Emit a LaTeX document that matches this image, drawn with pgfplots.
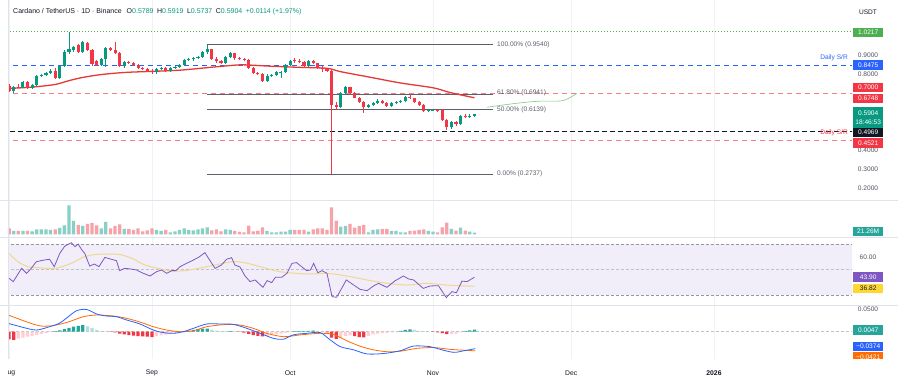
\documentclass[border=0pt]{standalone}
\usepackage{pgfplots}
\pgfplotsset{compat=1.18}
\usepackage{pgfplotstable}
\usepackage{fontspec}
\setmainfont{Liberation Sans}
\definecolor{tvgreen}{HTML}{089981}
\definecolor{tvred}{HTML}{F23645}
\definecolor{tvblue}{HTML}{2962FF}
\definecolor{tvtext}{HTML}{131722}
\definecolor{tvgray}{HTML}{50535E}
\definecolor{fibgray}{HTML}{5D606B}
\definecolor{emared}{HTML}{E53935}
\definecolor{volgreen}{HTML}{88CFC5}
\definecolor{volred}{HTML}{F5A3A8}
\definecolor{rsipurple}{HTML}{7E57C2}
\definecolor{rsima}{HTML}{EED98E}
\definecolor{rsiyellow}{HTML}{FDD835}
\definecolor{rsiband}{HTML}{F1EDF9}
\definecolor{rsidash}{HTML}{9598A1}
\definecolor{macdorange}{HTML}{FF6D00}
\definecolor{histdg}{HTML}{26A69A}
\definecolor{histlg}{HTML}{B2DFDB}
\definecolor{histdr}{HTML}{F23645}
\definecolor{histlr}{HTML}{FFCDD2}
\definecolor{sepc}{HTML}{E0E3EB}
\definecolor{gridc}{HTML}{F0F2F6}
\definecolor{lvgreen}{HTML}{4CAF50}
\definecolor{drawgreen}{HTML}{81C784}

\pgfplotstableread{
d o h l c
1 0.712 0.738 0.700 0.733
3 0.728 0.765 0.724 0.758
5 0.728 0.745 0.722 0.740
6 0.740 0.795 0.736 0.790
7 0.790 0.802 0.784 0.796
8 0.796 0.812 0.790 0.806
9 0.806 0.825 0.800 0.818
11 0.778 0.845 0.772 0.840
12 0.840 0.925 0.835 0.918
13 0.918 1.0217 0.905 0.930
14 0.926 0.948 0.915 0.944
16 0.918 0.975 0.912 0.970
20 0.848 0.884 0.842 0.878
21 0.878 0.940 0.835 0.935
25 0.840 0.870 0.832 0.864
32 0.808 0.834 0.802 0.828
33 0.828 0.836 0.820 0.832
35 0.815 0.838 0.810 0.834
36 0.834 0.840 0.826 0.836
37 0.836 0.852 0.830 0.848
38 0.848 0.880 0.844 0.874
39 0.874 0.886 0.866 0.878
40 0.878 0.892 0.870 0.886
41 0.886 0.896 0.878 0.890
42 0.890 0.920 0.884 0.914
43 0.914 0.954 0.906 0.930
47 0.860 0.896 0.854 0.890
48 0.890 0.916 0.884 0.908
56 0.764 0.798 0.760 0.792
57 0.792 0.800 0.782 0.796
58 0.796 0.814 0.788 0.808
59 0.808 0.816 0.780 0.812
60 0.812 0.852 0.806 0.846
61 0.846 0.874 0.840 0.868
65 0.842 0.872 0.838 0.866
72 0.628 0.706 0.622 0.698
73 0.698 0.736 0.692 0.730
78 0.628 0.640 0.622 0.636
79 0.636 0.654 0.630 0.648
80 0.648 0.668 0.642 0.660
83 0.632 0.650 0.628 0.645
84 0.645 0.656 0.640 0.652
85 0.652 0.664 0.646 0.658
86 0.658 0.686 0.652 0.680
91 0.605 0.615 0.598 0.611
92 0.611 0.617 0.604 0.613
96 0.520 0.550 0.512 0.546
98 0.535 0.585 0.530 0.578
100 0.574 0.592 0.566 0.579
101 0.5789 0.5919 0.5737 0.5904
}\greencandles

\pgfplotstableread{
d o h l c
0 0.738 0.745 0.705 0.712
2 0.733 0.745 0.725 0.728
4 0.758 0.762 0.722 0.728
10 0.818 0.830 0.772 0.778
15 0.950 0.958 0.912 0.918
17 0.961 0.968 0.920 0.926
18 0.926 0.930 0.842 0.850
19 0.868 0.876 0.840 0.848
22 0.935 0.942 0.920 0.926
23 0.926 0.970 0.905 0.910
24 0.910 0.914 0.836 0.840
26 0.864 0.870 0.850 0.856
27 0.856 0.862 0.842 0.848
28 0.848 0.852 0.828 0.832
29 0.832 0.838 0.820 0.826
30 0.826 0.832 0.812 0.818
31 0.818 0.825 0.800 0.808
34 0.832 0.836 0.810 0.815
44 0.930 0.934 0.874 0.880
45 0.880 0.888 0.860 0.866
46 0.866 0.874 0.852 0.860
49 0.908 0.912 0.876 0.882
50 0.882 0.890 0.872 0.878
51 0.878 0.884 0.868 0.874
52 0.874 0.878 0.824 0.830
53 0.830 0.836 0.802 0.806
54 0.806 0.812 0.794 0.800
55 0.800 0.806 0.758 0.764
62 0.874 0.884 0.860 0.868
63 0.868 0.878 0.856 0.862
64 0.862 0.866 0.836 0.842
66 0.866 0.872 0.850 0.856
67 0.856 0.860 0.826 0.832
68 0.832 0.840 0.812 0.826
69 0.826 0.832 0.812 0.818
70 0.818 0.824 0.2737 0.637
71 0.637 0.652 0.612 0.628
74 0.730 0.734 0.694 0.700
75 0.700 0.706 0.672 0.676
76 0.676 0.680 0.645 0.650
77 0.650 0.656 0.595 0.628
81 0.660 0.664 0.640 0.646
82 0.646 0.650 0.626 0.632
87 0.680 0.694 0.666 0.672
88 0.672 0.676 0.646 0.652
89 0.652 0.656 0.632 0.638
90 0.638 0.642 0.598 0.605
93 0.613 0.618 0.600 0.610
94 0.610 0.614 0.552 0.558
95 0.558 0.564 0.505 0.520
97 0.546 0.552 0.528 0.535
99 0.578 0.590 0.568 0.574
}\redcandles

\newcommand{\sm}{\fontsize{6.6}{7.5}\selectfont}

\pgfplotsset{
  tvpane/.style={
    scale only axis, width=844pt, xmin=-0.2388, xmax=182.96,
    anchor=south west, axis line style={draw=none}, major tick length=0pt,
    xtick={0,31,61,92,122,153}, xticklabels={,,,,,}, xmajorgrids,
    grid style={draw=gridc, line width=0.6pt},
    scaled y ticks=false, scaled x ticks=false,
    yticklabel pos=right,
    yticklabel style={anchor=center, xshift=16pt, font=\sm, text=tvgray},
  },
  lvl/.style={forget plot, line width=0.9pt, dash pattern=on 5pt off 4pt},
}
\tikzset{
  lab/.style={anchor=west, inner sep=0pt, minimum width=30pt, minimum height=9.6pt, font=\sm, text=white},
}

\begin{document}
\begin{tikzpicture}
\useasboundingbox (0,0) rectangle (898pt,380pt);
\fill[white] (0,0) rectangle (898pt,380pt);

% ---------------- price pane ----------------
\begin{axis}[tvpane, at={(8pt,180pt)}, height=200pt,
  ymin=0.13684, ymax=1.18947,
  ytick={0.2,0.3,0.4,0.8,0.9},
  yticklabel={\pgfmathprintnumber[fixed,fixed zerofill,precision=4,assume math mode=true]{\tick}}]
% horizontal levels
\addplot[forget plot, lvgreen, line width=0.9pt, dash pattern=on 1pt off 2pt] coordinates {(-5,1.0217)(200,1.0217)};
\addplot[lvl, tvblue] coordinates {(-5,0.8475)(200,0.8475)};
\addplot[lvl, tvred!65] coordinates {(-5,0.7000)(200,0.7000)};
\addplot[lvl, tvred!65] coordinates {(-5,0.4521)(200,0.4521)};
\addplot[forget plot, tvtext, line width=1.5pt, dash pattern=on 5pt off 3pt] coordinates {(-5,0.4969)(200,0.4969)};
% fibonacci
\addplot[forget plot, fibgray, line width=0.8pt] coordinates {(42.96,0.9540)(105.0,0.9540)};
\addplot[forget plot, fibgray, line width=0.8pt] coordinates {(42.96,0.6941)(105.0,0.6941)};
\addplot[forget plot, fibgray, line width=0.8pt] coordinates {(42.96,0.6139)(105.0,0.6139)};
\addplot[forget plot, fibgray, line width=0.8pt] coordinates {(42.96,0.2737)(105.0,0.2737)};
% drawing curve
\addplot[forget plot, drawgreen, line width=0.6pt, smooth] coordinates {(103.7,0.625)(110.2,0.646)(115.2,0.657)(120.2,0.660)(123.2,0.698)};
% EMA
\addplot[forget plot, emared, line width=1.3pt, smooth] coordinates {
(0,0.724)(5,0.731)(10,0.745)(13,0.765)(16,0.782)(20,0.797)(25,0.808)(30,0.813)(37,0.820)(45,0.838)(50,0.848)(53,0.846)(56,0.842)(63,0.835)(69,0.830)(72,0.812)(77.7,0.786)(84.9,0.753)(92.1,0.727)(95.8,0.702)(101,0.6748)};
% wicks
\addplot[forget plot, draw=none, mark=none, error bars/.cd, y dir=minus, y explicit, error mark=none,
  error bar style={draw=tvgreen, line width=0.8pt}]
  table[x=d, y=h, y error minus expr=\thisrow{h}-\thisrow{l}] {\greencandles};
\addplot[forget plot, draw=none, mark=none, error bars/.cd, y dir=minus, y explicit, error mark=none,
  error bar style={draw=tvred, line width=0.8pt}]
  table[x=d, y=h, y error minus expr=\thisrow{h}-\thisrow{l}] {\redcandles};
% bodies
\addplot[forget plot, draw=none, mark=none, error bars/.cd, y dir=minus, y explicit, error mark=none,
  error bar style={draw=tvgreen, line width=3.1pt}]
  table[x=d, y=c, y error minus expr=\thisrow{c}-\thisrow{o}] {\greencandles};
\addplot[forget plot, draw=none, mark=none, error bars/.cd, y dir=minus, y explicit, error mark=none,
  error bar style={draw=tvred, line width=3.1pt}]
  table[x=d, y=o, y error minus expr=\thisrow{o}-\thisrow{c}] {\redcandles};
\end{axis}

% ---------------- volume pane ----------------
\begin{axis}[tvpane, at={(8pt,142.5pt)}, height=37.5pt, ymin=-3.2, ymax=34.3, ytick=\empty]
\addplot[forget plot, ybar, bar shift=0pt, bar width=3.3pt, fill=volgreen, draw=none] coordinates {
(1,3.5)(3,3.5)(5,3)(6,5)(7,5)(8,5)(9,4.5)(11,6.5)(12,9)(13,29)(14,13.5)(16,8.5)(20,6)(21,12.5)(25,5.5)(32,4.5)(33,3.5)(35,2)(36,3)(37,4.5)(38,6)(39,4.5)(40,4)(41,5)(42,6)(43,7)(47,5)(48,4.5)(56,3.5)(57,2)(58,2)(59,2.7)(60,2.7)(61,4.3)(65,2.7)(72,7.7)(73,8.3)(78,2)(79,4.3)(80,5)(83,3.3)(84,3.3)(85,2)(86,2)(91,3.3)(92,2.7)(96,5.3)(98,6.7)(100,2.7)(101,1.7)};
\addplot[forget plot, ybar, bar shift=0pt, bar width=3.3pt, fill=volred, draw=none] coordinates {
(0,6)(2,3.5)(4,3.5)(10,5)(15,9.5)(17,10.5)(18,11.5)(19,9)(22,6)(23,8.5)(24,10)(26,5.5)(27,4.5)(28,6)(29,3)(30,4)(31,6)(34,4.5)(44,4)(45,5)(46,3)(49,3.5)(50,2.5)(51,2)(52,8.7)(53,3)(54,3.5)(55,7)(62,4.3)(63,4.3)(64,4.3)(66,5)(67,6)(68,6)(69,4.5)(70,27)(71,13.7)(74,10.3)(75,6.7)(76,8.3)(77,9.3)(81,5.3)(82,5.3)(87,3.3)(88,3.7)(89,4.3)(90,5)(93,2)(94,7)(95,11.7)(97,3.7)(99,3.7)};
\end{axis}

% ---------------- RSI pane ----------------
\begin{axis}[tvpane, at={(8pt,75pt)}, height=67.5pt, ymin=22.16, ymax=75.1,
  ytick={60},
  yticklabel={\pgfmathprintnumber[fixed,fixed zerofill,precision=2,assume math mode=true]{\tick}}]
\addplot[forget plot, fill=rsiband, draw=none] coordinates {(-5,30)(200,30)(200,70)(-5,70)};
\addplot[forget plot, rsidash, line width=0.6pt, dash pattern=on 2.5pt off 2.5pt] coordinates {(-5,70)(200,70)};
\addplot[forget plot, rsidash!60, line width=0.6pt, dash pattern=on 2.5pt off 2.5pt] coordinates {(-5,50)(200,50)};
\addplot[forget plot, rsidash, line width=0.6pt, dash pattern=on 2.5pt off 2.5pt] coordinates {(-5,30)(200,30)};
\addplot[forget plot, rsima, line width=1pt, smooth] coordinates {
(0,62.7)(1.9,56.1)(4.1,52.2)(6.3,51.4)(9.9,50.9)(13.5,54.8)(16.4,60.1)(19.3,61.9)(23.7,61.9)(26.6,58.8)(29.5,53.5)(32.4,50.9)(35.3,48.8)(38.2,49.1)(41.1,50.9)(44,53)(48.3,56.1)(51.1,55.4)(54.5,52.2)(58.8,48.3)(64.6,46.5)(69,47)(73.3,44.9)(77.7,41.8)(82,39.2)(86.4,37.8)(90.7,39.2)(94.9,37.8)(101,36.82)};
\addplot[forget plot, rsipurple, line width=0.8pt] coordinates {
(0,43.1)(0.9,40.5)(2.7,50.9)(3.8,47)(4.8,50.9)(5.9,56.1)(7.7,57.5)(8.8,58)(9.8,52.2)(11,62.7)(12.1,68.4)(13.5,71)(14.3,67.9)(15,70)(15.7,65.8)(16.4,62.7)(17.5,52.7)(18.5,54.3)(19.5,52.2)(20.8,59.5)(22.2,58)(23.3,56.9)(24,49.1)(25.1,50.9)(26.4,50.4)(27.7,49.6)(28.8,47.5)(30.6,44.9)(32,48.3)(33.1,49.6)(34.2,47)(35.3,49.1)(36.2,49.1)(37.1,52.2)(38.5,54.8)(39.6,56.7)(41.1,59.5)(42.5,63.2)(44.7,50.9)(46.1,53.5)(47.2,58)(48.3,59.3)(49,53.5)(50.1,52)(51.2,45)(52.3,40.5)(53.4,41.8)(55.1,36)(56,41.3)(57,39.7)(57.8,43.9)(59.2,43.9)(60.3,47)(61.4,54.8)(62.4,55.4)(63.5,52.2)(64.6,49.1)(65.4,49.6)(66.1,54.8)(67,47.5)(67.9,49.1)(69,47)(70.1,28.7)(71.1,28.2)(73.2,41.8)(74.8,37.8)(76.2,34.4)(77.7,33.4)(79.1,37.1)(80.2,39.2)(82,36)(83.8,41.2)(85.6,44.9)(86.7,42.6)(87.8,41.8)(89.9,35.2)(91.4,37.1)(93.2,37.3)(94.9,27.9)(96.1,32.6)(97.1,31.8)(98.3,40.9)(99.4,40.5)(101,43.9)};
\end{axis}

% ---------------- MACD pane ----------------
\begin{axis}[tvpane, at={(8pt,21pt)}, height=54pt, ymin=-0.06013, ymax=0.05881,
  ytick={0.05},
  yticklabel={\pgfmathprintnumber[fixed,fixed zerofill,precision=4,assume math mode=true]{\tick}},
  xticklabels={Aug,Sep,Oct,Nov,Dec,\textbf{2026}},
  xticklabel style={anchor=center, yshift=-14pt, font=\fontsize{6.8}{8}\selectfont, text=tvtext}]
\addplot[forget plot, rsidash!60, line width=0.6pt, dash pattern=on 2.5pt off 2.5pt] coordinates {(-5,0)(200,0)};
\addplot[forget plot, ybar, bar shift=0pt, bar width=3.2pt, fill=histdg, draw=none] coordinates {
(10,0.001)(11,0.003)(12,0.0055)(13,0.0085)(14,0.011)(15,0.013)(16,0.0145)(38,0.0005)(39,0.0025)(40,0.004)(41,0.0055)(42,0.0065)(43,0.007)(48,0.0015)(62,0.001)(63,0.0015)(64,0.0015)(65,0.002)(66,0.0025)(85,0.002)(86,0.004)(87,0.005)(99,0.001)(100,0.003)(101,0.0047)};
\addplot[forget plot, ybar, bar shift=0pt, bar width=3.2pt, fill=histlg, draw=none] coordinates {
(17,0.012)(18,0.008)(19,0.004)(20,0.0015)(21,0.0005)(44,0.004)(45,0.0025)(46,0.0015)(47,0.001)(49,0.001)(67,0.0015)(68,0.0005)(88,0.004)(89,0.002)(90,0.001)(91,0.0005)};
\addplot[forget plot, ybar, bar shift=0pt, bar width=3.2pt, fill=histdr, draw=none] coordinates {
(0,-0.017)(1,-0.018)(22,-0.0005)(23,-0.0015)(24,-0.004)(25,-0.006)(26,-0.0075)(27,-0.0085)(28,-0.0095)(29,-0.0105)(30,-0.011)(31,-0.012)(50,-0.0005)(51,-0.002)(52,-0.005)(53,-0.0075)(54,-0.009)(55,-0.0105)(69,-0.0015)(70,-0.013)(71,-0.016)(75,-0.010)(76,-0.012)(77,-0.0125)(92,-0.0005)(93,-0.0015)(94,-0.003)(95,-0.0055)};
\addplot[forget plot, ybar, bar shift=0pt, bar width=3.2pt, fill=histlr, draw=none] coordinates {
(2,-0.015)(3,-0.013)(4,-0.011)(5,-0.009)(6,-0.007)(7,-0.005)(8,-0.003)(9,-0.001)(32,-0.010)(33,-0.008)(34,-0.0065)(35,-0.005)(36,-0.0035)(37,-0.002)(56,-0.009)(57,-0.007)(58,-0.0055)(59,-0.004)(60,-0.0025)(61,-0.001)(72,-0.014)(73,-0.010)(74,-0.008)(78,-0.009)(79,-0.006)(80,-0.004)(81,-0.003)(82,-0.0025)(83,-0.0015)(96,-0.005)(97,-0.0045)(98,-0.0015)};
\addplot[forget plot, macdorange, line width=0.8pt, smooth] coordinates {
(-0.2,0.0367)(5.9,0.0147)(8.8,0.0125)(12.4,0.02)(16.1,0.033)(19.0,0.0367)(22.6,0.0346)(25.5,0.0294)(28.4,0.0213)(31.3,0.011)(34.2,0.0037)(37.1,0)(40.0,0.002)(42.9,0.011)(47.2,0.016)(50.1,0.0147)(53.0,0.0074)(55.9,-0.0036)(59.6,-0.011)(63.2,-0.007)(67.5,-0.0036)(70.4,-0.006)(73.3,-0.02)(76.2,-0.032)(79.1,-0.040)(82.0,-0.044)(84.9,-0.043)(88.5,-0.0367)(92.2,-0.035)(95.8,-0.039)(99.4,-0.0412)(101.2,-0.0421)};
\addplot[forget plot, tvblue, line width=0.8pt, smooth] coordinates {
(-0.2,0.0184)(3.0,0.0096)(5.9,0.0037)(8.8,0.011)(10.9,0.0184)(12.4,0.0294)(14.6,0.046)(16.8,0.049)(19.0,0.039)(21.1,0.0346)(23.3,0.033)(25.5,0.0258)(28.4,0.017)(31.3,0.0037)(33.5,-0.002)(35.6,-0.0036)(37.8,0)(40.0,0.0074)(42.9,0.017)(45.8,0.017)(48.7,0.016)(51.6,0.0074)(54.5,-0.0036)(57.4,-0.0147)(59.5,-0.0168)(61.7,-0.007)(64.6,-0.0036)(67.5,-0.002)(69.7,-0.018)(71.9,-0.033)(74.8,-0.040)(77.7,-0.049)(81.3,-0.048)(84.9,-0.042)(87.8,-0.0316)(91.4,-0.033)(93.6,-0.039)(96.5,-0.0455)(98.7,-0.042)(101.2,-0.0374)};
\end{axis}

% separators and borders
\draw[sepc, line width=0.8pt] (0,180pt) -- (898pt,180pt);
\draw[sepc, line width=0.8pt] (0,142.5pt) -- (898pt,142.5pt);
\draw[sepc, line width=0.8pt] (0,75pt) -- (898pt,75pt);
\draw[sepc, line width=0.6pt] (8pt,21pt) -- (8pt,380pt);

% header
\node[anchor=west, inner sep=0pt, font=\fontsize{7}{8}\selectfont, text=tvtext] at (13pt,368.5pt)
 {Cardano / TetherUS · 1D · Binance\hspace{5pt}O\textcolor{tvgreen}{0.5789}\hspace{3.5pt}H\textcolor{tvgreen}{0.5919}\hspace{3.5pt}L\textcolor{tvgreen}{0.5737}\hspace{3.5pt}C\textcolor{tvgreen}{0.5904}\hspace{3.5pt}\textcolor{tvgreen}{+0.0114 (+1.97\%)}};

% fib labels
\begin{scope}[every node/.style={anchor=west, inner sep=0pt, font=\sm, text=fibgray}]
\node at (497pt,335pt) {100.00\% (0.9540)};
\node at (497pt,287pt) {61.80\% (0.6941)};
\node at (497pt,270.7pt) {50.00\% (0.6139)};
\node at (497pt,206.7pt) {0.00\% (0.2737)};
\end{scope}
\node[anchor=east, inner sep=0pt, font=\sm, text=tvblue] at (848pt,322pt) {Daily S/R};
\node[anchor=east, inner sep=0pt, font=\sm, text=tvred] at (848pt,247.5pt) {Daily S/R};

% price scale labels
\node[anchor=center, inner sep=0pt, font=\sm, text=tvtext] at (868pt,367.3pt) {USDT};
\node[lab, fill=lvgreen] at (853pt,347.3pt) {1.0217};
\node[lab, fill=tvblue] at (853pt,314.7pt) {0.8475};
\node[lab, fill=tvred] at (853pt,292.4pt) {0.7000};
\node[lab, fill=tvred] at (853pt,281.6pt) {0.6748};
\node[lab, fill=tvgreen, minimum height=21pt, align=center, font=\fontsize{6.6}{9.5}\selectfont] at (853pt,262.5pt) {0.5904\\18:46:53};
\node[lab, fill=tvtext] at (853pt,247.3pt) {0.4969};
\node[lab, fill=tvred] at (853pt,236.7pt) {0.4521};
% volume
\node[lab, fill=histdg] at (853pt,148.3pt) {21.26M};
% rsi
\node[lab, fill=rsipurple] at (853pt,103pt) {43.90};
\node[lab, fill=rsiyellow, text=tvtext] at (853pt,91.3pt) {36.82};
% macd
\node[lab, fill=histdg] at (853pt,50pt) {0.0047};
\node[lab, fill=tvblue] at (853pt,33.3pt) {−0.0374};
\node[lab, fill=macdorange] at (853pt,23pt) {−0.0421};

% covers: clip the cut-off date label and the lowest scale label
\fill[white] (0,0) rectangle (7.6pt,20.5pt);
\fill[white] (850pt,0) rectangle (898pt,20.5pt);
\end{tikzpicture}
\end{document}
